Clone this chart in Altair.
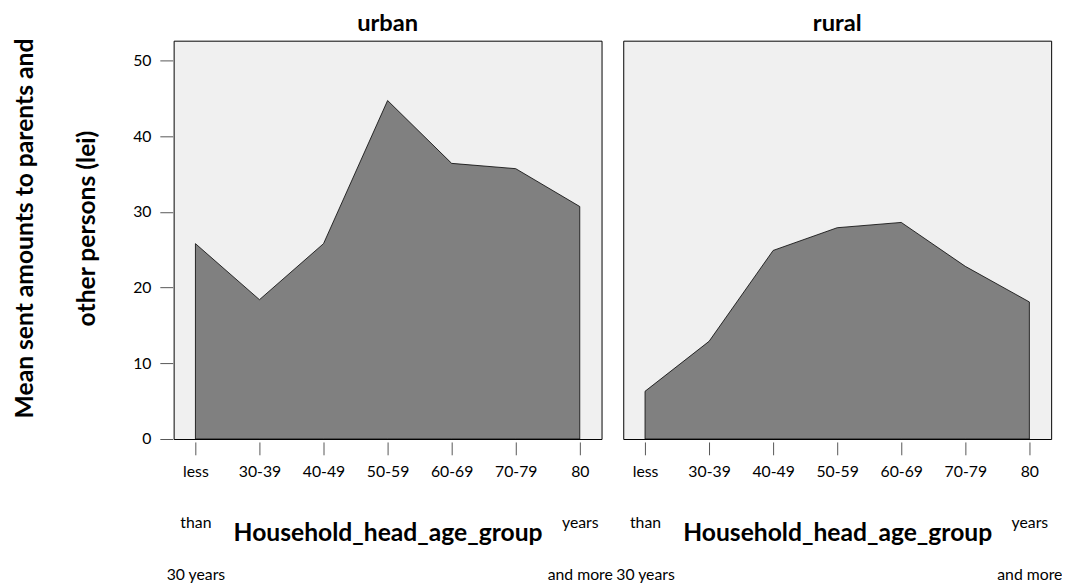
import altair as alt
import pandas as pd

age_groups = ["less than 30 years", "30-39", "40-49", "50-59", "60-69", "70-79", "80 years and more"]
places = ["urban", "rural"]
urban_values = [25.8, 18.4, 25.8, 44.7, 36.4, 35.7, 30.7]
rural_values = [6.3, 12.9, 24.9, 27.9, 28.6, 22.8, 18.1]
y_ticks = [0, 10, 20, 30, 40, 50]

rows = []
for place, vals in zip(places, [urban_values, rural_values]):
    for age, v in zip(age_groups, vals):
        rows.append({"place": place, "age": age, "amount": v})
df = pd.DataFrame(rows)

label_expr = (
    "datum.label == 'less than 30 years' ? ['less', 'than', '30 years'] : "
    "datum.label == '80 years and more' ? ['80', 'years', 'and more'] : datum.label"
)

FONT = "Lato"

base = alt.Chart(df).mark_area(
    fill="#808080", stroke="black", strokeWidth=0.8, interpolate="linear"
).encode(
    x=alt.X(
        "age:N",
        sort=age_groups,
        scale=alt.Scale(type="point", padding=0.34),
        axis=alt.Axis(
            title="Household_head_age_group",
            labelExpr=label_expr,
            labelAngle=0,
            labelAlign="center",
            labelBaseline="top",
            labelLineHeight=52,
            labelFontSize=16,
            labelColor="black",
            labelPadding=9,
            tickSize=13,
            tickColor="#555555",
            domain=False,
            titleFontSize=25,
            titleFontWeight="bold",
            titleColor="black",
            titleY=100,
            titleBaseline="alphabetic",
        ),
    ),
    y=alt.Y(
        "amount:Q",
        scale=alt.Scale(domain=[0, 52.6], nice=False),
        axis=alt.Axis(
            values=y_ticks,
            title=["Mean sent amounts to parents and", "other persons (lei)"],
            titleFontSize=25,
            titleFontWeight="bold",
            titleColor="black",
            titleLineHeight=63,
            titlePadding=34,
            titleY=190,
            labelFontSize=16,
            labelColor="black",
            labelPadding=9,
            tickSize=13,
            tickColor="#555555",
            domain=False,
            grid=False,
        ),
    ),
).properties(width=434, height=404)

chart = base.facet(
    column=alt.Column(
        "place:N",
        sort=places,
        title=None,
        header=alt.Header(
            labelFontSize=24,
            labelFontWeight="bold",
            labelColor="black",
            labelPadding=4,
            labelFont=FONT,
        ),
    ),
    spacing=20,
).properties(
    padding={"left": 4, "top": 0, "right": 0, "bottom": 5}
).configure(
    font=FONT
).configure_view(
    fill="#f0f0f0", stroke="black", strokeWidth=1
)

chart.save("out.html", embed_options={"renderer": "svg", "actions": False})
